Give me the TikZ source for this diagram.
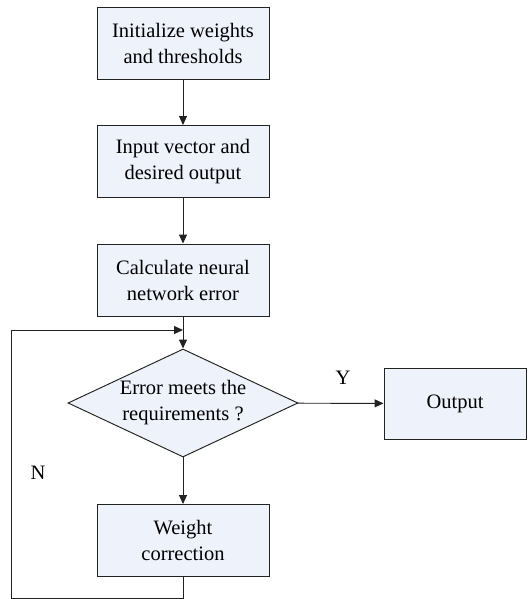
\documentclass[tikz,border=0pt]{standalone}
\usepackage{fontspec}
\setmainfont{Liberation Serif}
\usetikzlibrary{arrows.meta,shapes.geometric}
\definecolor{boxfill}{RGB}{238,242,250}
\definecolor{linegray}{RGB}{34,34,34}

\begin{document}
\begin{tikzpicture}[x=1pt,y=-1pt,>={Triangle[length=9pt,width=8pt]},line width=0.95pt,
  draw=linegray,font=\fontsize{20.5}{26}\selectfont,
  proc/.style={draw=linegray,fill=boxfill,minimum width=172pt,minimum height=72pt,align=center,inner sep=0pt},
  decide/.style={draw=linegray,fill=boxfill,diamond,aspect=2.13,minimum width=230pt,minimum height=108pt,align=center,inner sep=0pt}]
\useasboundingbox (0,0) rectangle (527,599);
\node[proc] (init) at (183,43) {Initialize weights\\and thresholds};
\node[proc] (input) at (183,161.5) {Input vector and\\desired output};
\node[proc] (calc) at (183,280) {Calculate neural\\network error};
\node[decide] (check) at (183,403) {Error meets the\\requirements ?};
\node[proc,minimum width=142pt,minimum height=71pt] (out) at (455,403.5) {Output};
\node[proc] (corr) at (183,540.5) {Weight\\correction};
\coordinate (join) at (183,330);
\coordinate (lowcorner) at (183,598);
\coordinate (leftlow) at (11,598);
\coordinate (lefttop) at (11,330);
\draw[->,linegray] (init) -- (input);
\draw[->,linegray] (input) -- (calc);
\draw[->,linegray] (calc) -- (check);
\draw[->,linegray] (check) -- (out);
\draw[->,linegray] (check) -- (corr);
\draw[->,linegray] (corr.south) -- (lowcorner) -- (leftlow) -- (lefttop) -- (join);
\node (yes) at (343,378) {Y};
\node (no) at (38,473) {N};
\end{tikzpicture}
\end{document}
